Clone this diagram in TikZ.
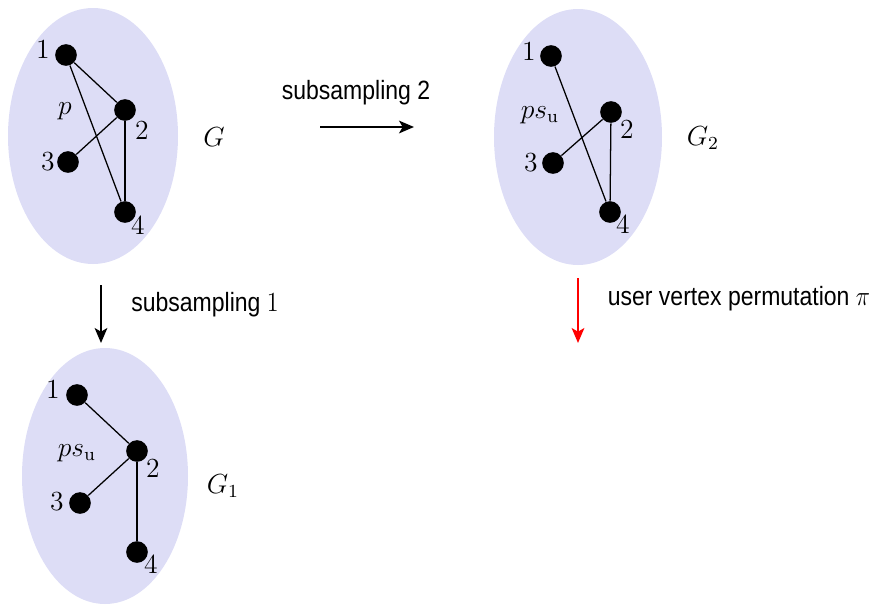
\documentclass[tikz,border=0pt]{standalone}
\usepackage{fontspec}
\usepackage{graphicx}
\newfontfamily\helv{Liberation Sans}
\usetikzlibrary{arrows.meta}
\definecolor{blobfill}{RGB}{221,221,246}
\newcommand{\captext}[1]{\scalebox{0.87}[1]{\fontsize{11.5}{14}\selectfont\helv #1}}
\tikzset{
  vtx/.style={circle,fill=black,inner sep=0pt,minimum size=9.4pt},
  vlabel/.style={inner sep=0pt,font=\large},
  edge/.style={line width=0.55pt},
  blob/.style={fill=blobfill,draw=none},
  flow/.style={line width=0.95pt,-{Stealth[length=6.5pt,width=5.5pt,inset=1.6pt]}},
  caption/.style={inner sep=0pt}
}
\begin{document}
\begin{tikzpicture}[x=0.4348pt,y=-0.4348pt]
\useasboundingbox (0,0) rectangle (881,604);

% ---- graph G ----
\fill[blob] (93,136) ellipse [x radius=85, y radius=128];
\node[vtx] (g1) at (66,55) {};
\node[vtx] (g2) at (125,110) {};
\node[vtx] (g3) at (68,162) {};
\node[vtx] (g4) at (125,212) {};
\draw[edge] (g1) -- (g2);
\draw[edge] (g1) -- (g4);
\draw[edge] (g2) -- (g3);
\draw[edge] (g2) -- (g4);
\node[vlabel] (lg1) at (43,50) {$1$};
\node[vlabel] (lg2) at (142,131) {$2$};
\node[vlabel] (lg3) at (48,162) {$3$};
\node[vlabel] (lg4) at (138,226) {$4$};
\node[vlabel] (lgp) at (65,111) {$p$};
\node[vlabel] (nameG) at (214,137) {$G$};

% ---- graph G_2 ----
\fill[blob] (578,137) ellipse [x radius=84, y radius=128];
\node[vtx] (h1) at (551,56) {};
\node[vtx] (h2) at (611,112) {};
\node[vtx] (h3) at (553,163) {};
\node[vtx] (h4) at (610,212) {};
\draw[edge] (h1) -- (h4);
\draw[edge] (h2) -- (h3);
\draw[edge] (h2) -- (h4);
\node[vlabel] (lh1) at (529,52) {$1$};
\node[vlabel] (lh2) at (627,130) {$2$};
\node[vlabel] (lh3) at (531,163) {$3$};
\node[vlabel] (lh4) at (623,225) {$4$};
\node[vlabel] (lhp) at (540,115) {$ps_{\mathrm{u}}$};
\node[vlabel] (nameG2) at (703,138) {$G_2$};

% ---- graph G_1 ----
\fill[blob] (105,476) ellipse [x radius=83, y radius=128];
\node[vtx] (k1) at (77,395) {};
\node[vtx] (k2) at (137,451) {};
\node[vtx] (k3) at (80,503) {};
\node[vtx] (k4) at (137,552) {};
\draw[edge] (k1) -- (k2);
\draw[edge] (k2) -- (k3);
\draw[edge] (k2) -- (k4);
\node[vlabel] (lk1) at (53,390) {$1$};
\node[vlabel] (lk2) at (153,469) {$2$};
\node[vlabel] (lk3) at (57,502) {$3$};
\node[vlabel] (lk4) at (151,565) {$4$};
\node[vlabel] (lkp) at (77,453) {$ps_{\mathrm{u}}$};
\node[vlabel] (nameG1) at (223,486) {$G_1$};

% ---- transitions ----
\coordinate (s2a) at (320,127);
\coordinate (s2b) at (414,127);
\draw[flow] (s2a) -- (s2b);
\node[caption] (cap2) at (356,93) {\captext{subsampling 2}};

\coordinate (s1a) at (101,285);
\coordinate (s1b) at (101,343);
\draw[flow] (s1a) -- (s1b);
\node[caption] (cap1) at (205,305) {\captext{subsampling $1$}};

\coordinate (pa) at (578,278);
\coordinate (pb) at (578,343);
\draw[flow,red] (pa) -- (pb);
\node[caption] (cap3) at (739,299) {\captext{user vertex permutation $\pi$}};
\end{tikzpicture}
\end{document}
